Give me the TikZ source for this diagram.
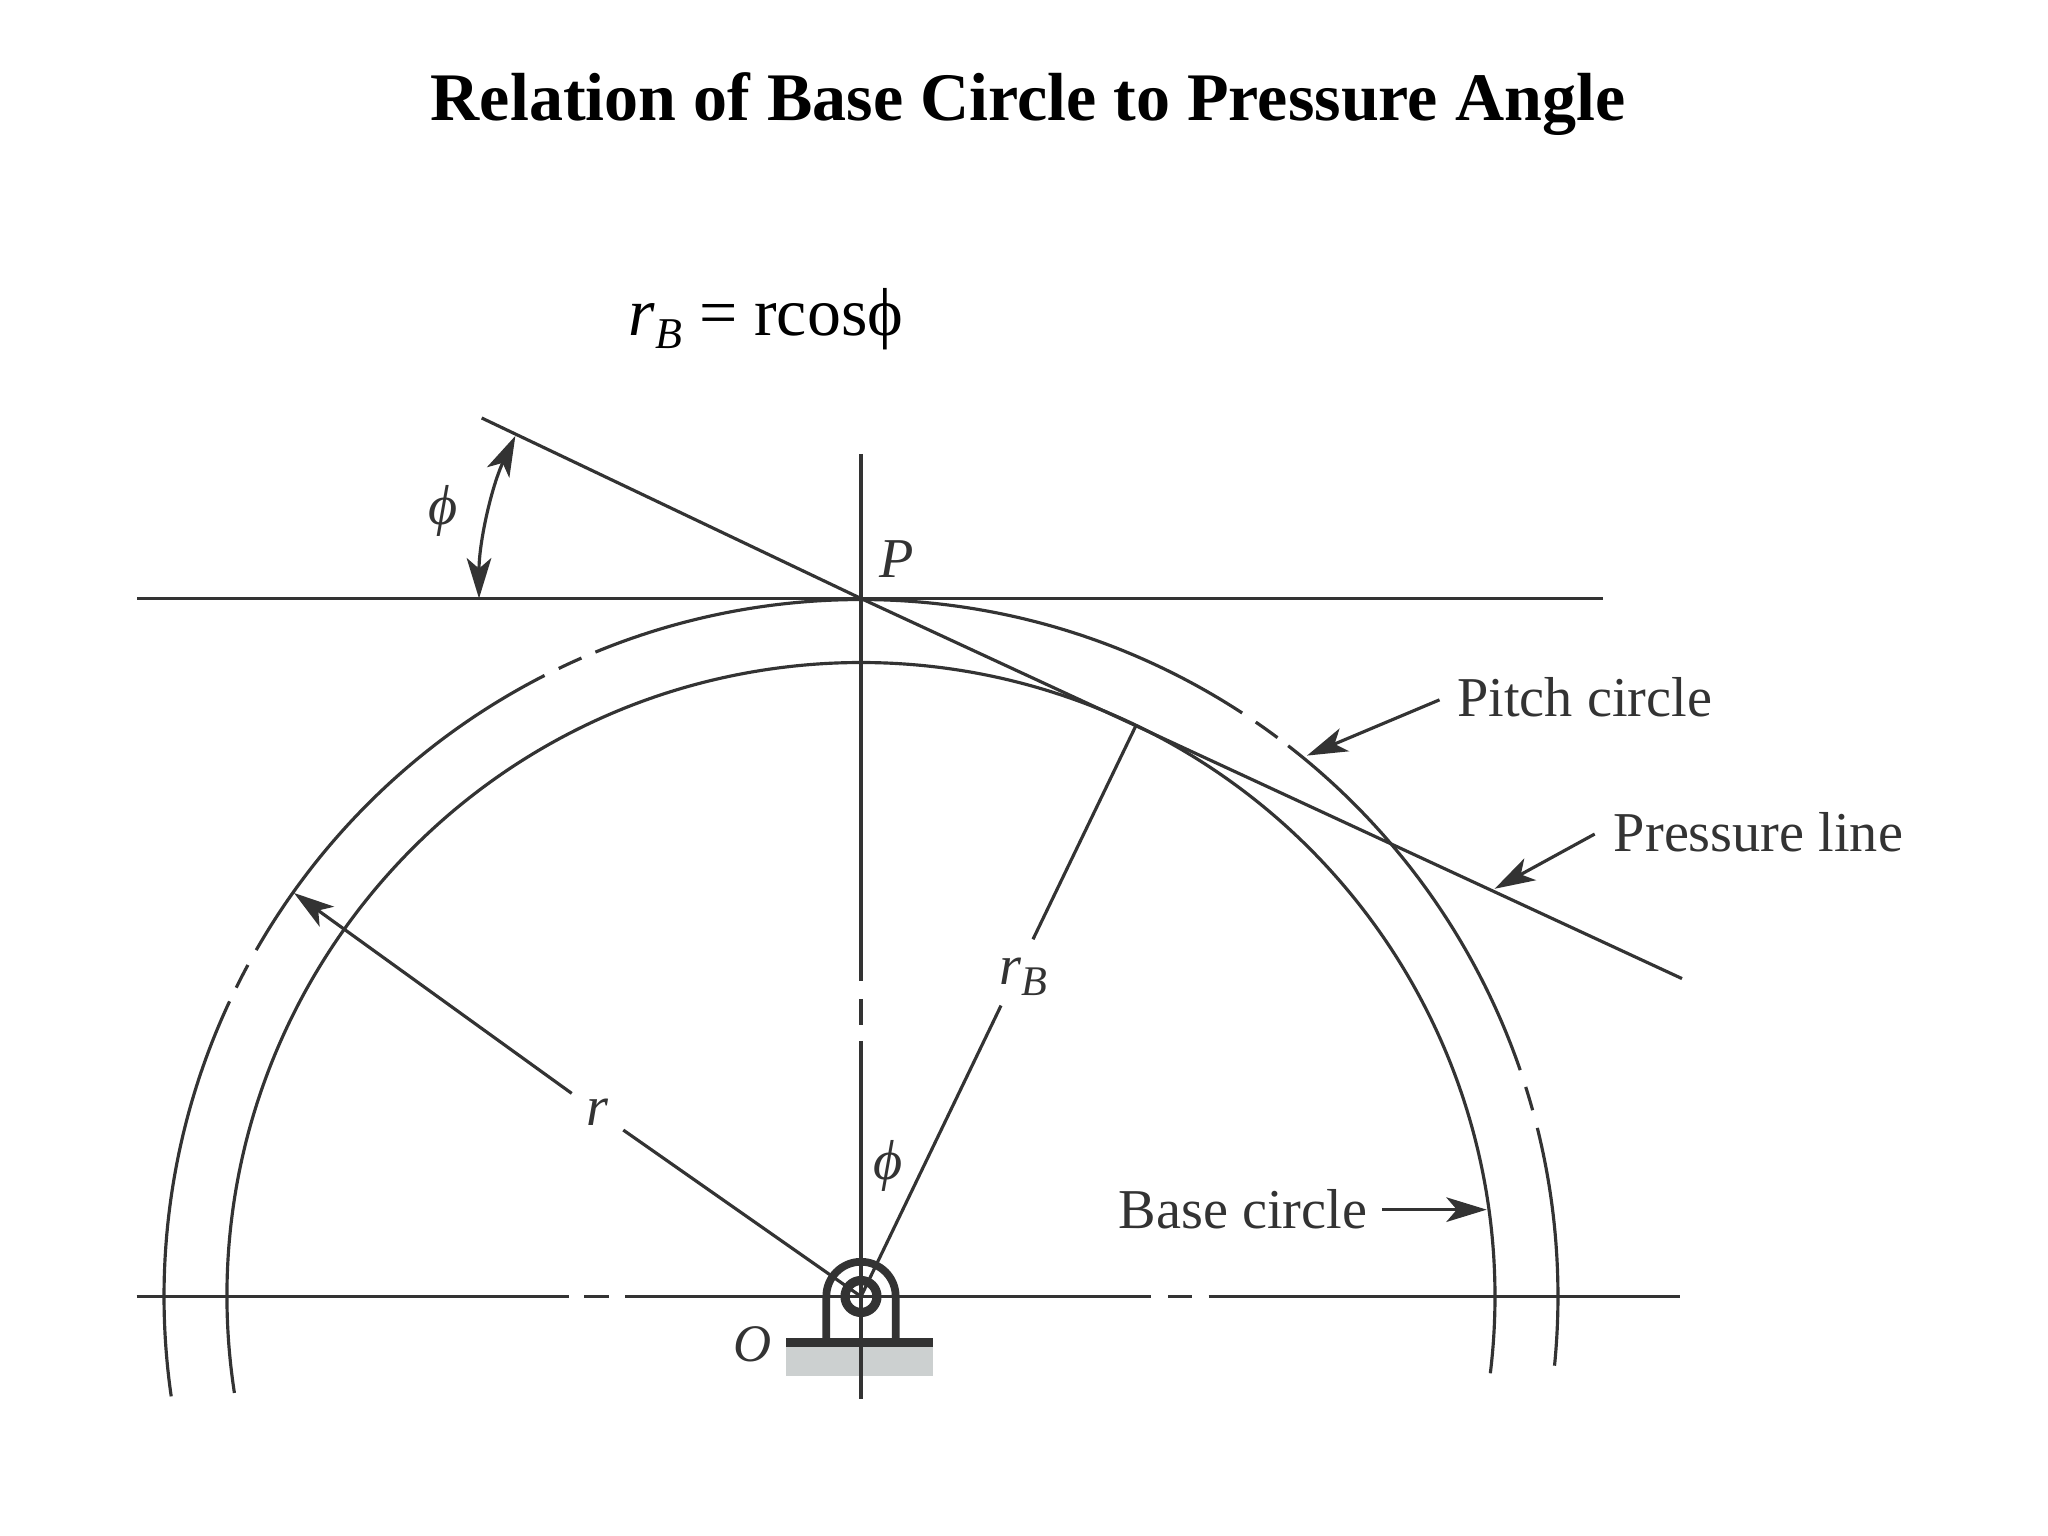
\documentclass[tikz,border=0pt]{standalone}
\usepackage{fontspec}
\setmainfont{Liberation Serif}
\usepackage{xcolor}
\usepackage{tikz}
\usetikzlibrary{arrows.meta}
\definecolor{ink}{HTML}{333333}
\definecolor{groundgray}{HTML}{CCD0D0}
\newcommand{\subB}[1]{\raisebox{-0.42ex}{\fontsize{#1}{#1}\selectfont\textit{B}}}
\tikzset{
    >={Stealth[length=11.5pt, width=7pt, inset=3pt]},
    fine/.style={draw=ink, line width=0.9pt},
    label/.style={inner sep=4pt, text=ink, font=\fontsize{16}{19}\selectfont},
    heading/.style={inner sep=0pt, text=black, font=\fontsize{19.3}{23}\selectfont}
}
\begin{document}
\begin{tikzpicture}[x=0.01cm, y=0.01cm]
    \useasboundingbox (0,0) rectangle (2048,1536);

    \coordinate (O) at (861,239.5);
    \coordinate (P) at (861,937.5);
    \coordinate (T) at (1136,810.5);
    \coordinate (pressureA) at (481.7,1118);
    \coordinate (pressureB) at (1682,557.4);

    \node[heading, anchor=base, font=\fontsize{19.35}{23}\selectfont\bfseries] (title) at (1028,1415) {Relation of Base Circle to Pressure Angle};
    \node[heading, anchor=base west] (formula) at (628,1200.4) {\textit{r}\subB{12.5} = rcosϕ};

    \fill[groundgray] (786,160.3) rectangle (932.7,189.3);

    \foreach \from/\to in {188.24/154.95, 153.7/151.6, 150.2/117, 115.7/113.65, 112.4/56.85, 55.5/53.3, 52.2/18.95, 17.5/15.5, 14/-5.7}
        \draw[fine] ([shift={(O)}]\from:697) arc[start angle=\from, end angle=\to, radius=697];
    \draw[fine] ([shift={(O)}]188.75:634) arc[start angle=188.75, end angle=-6.96, radius=634];

    \draw[fine] (137,937.5) -- (1603,937.5);
    \foreach \xa/\xb in {136.6/568.7, 584.4/609, 625.4/1151, 1168/1192, 1208.6/1680}
        \draw[fine] (\xa,239.5) -- (\xb,239.5);
    \foreach \ya/\yb in {1082/555, 537/511, 495/137}
        \draw[fine] (861,\ya) -- (861,\yb);

    \draw[fine] (pressureA) -- (P) -- (pressureB);

    \node[label] (rlabel) at (597.5,424) {\textit{r}};
    \coordinate (rtip) at (294,643);
    \draw[fine] (O) -- (rlabel);
    \draw[fine, ->] (rlabel) -- (rtip);

    \coordinate (rBlow) at (1001,530.4);
    \coordinate (rBup) at (1033,596.7);
    \node[label, inner sep=0pt] (rBlabel) at (1023,559) {\textit{r}\subB{12}};
    \draw[fine] (O) -- (rBlow);
    \draw[fine] (rBup) -- (T);

    \draw[fine, <->] ([shift={(P)}]180:382) arc[start angle=180, end angle=154.8, radius=382];

    \node[label] (philabel) at (443.3,1025) {\textit{ϕ}};
    \node[label] (phibottom) at (888,370) {\textit{ϕ}};
    \node[label] (Plabel) at (896.8,977) {\textit{P}};
    \node[label, font=\fontsize{15}{18}\selectfont] (Olabel) at (752.3,192) {\textit{O}};

    \node[label, anchor=base west] (pitchlabel) at (1442.5,819.9) {Pitch circle};
    \node[label, anchor=base west] (pressurelabel) at (1599.2,684.7) {Pressure line};
    \node[label, anchor=base west] (baselabel) at (1104,307.1) {Base circle};
    \coordinate (pitchtip) at (1307,780.4);
    \coordinate (pressuretip) at (1494.6,647.2);
    \coordinate (basetip) at (1486.7,325);
    \draw[fine, ->] ([shift={(-3,-3)}]pitchlabel.west) -- (pitchtip);
    \draw[fine, ->] ([shift={(-4.5,-2)}]pressurelabel.west) -- (pressuretip);
    \draw[fine, ->] (baselabel.east) -- (baselabel.east -| basetip);

    \draw[ink, line width=2.2pt] (826.3,190) -- (826.3,239.5) arc[start angle=180, end angle=0, radius=34.7] -- (895.7,190);
    \draw[ink, line width=2.6pt] (O) circle[radius=16];
    \fill[ink] (786,189.3) rectangle (932.7,197.7);
\end{tikzpicture}
\end{document}
